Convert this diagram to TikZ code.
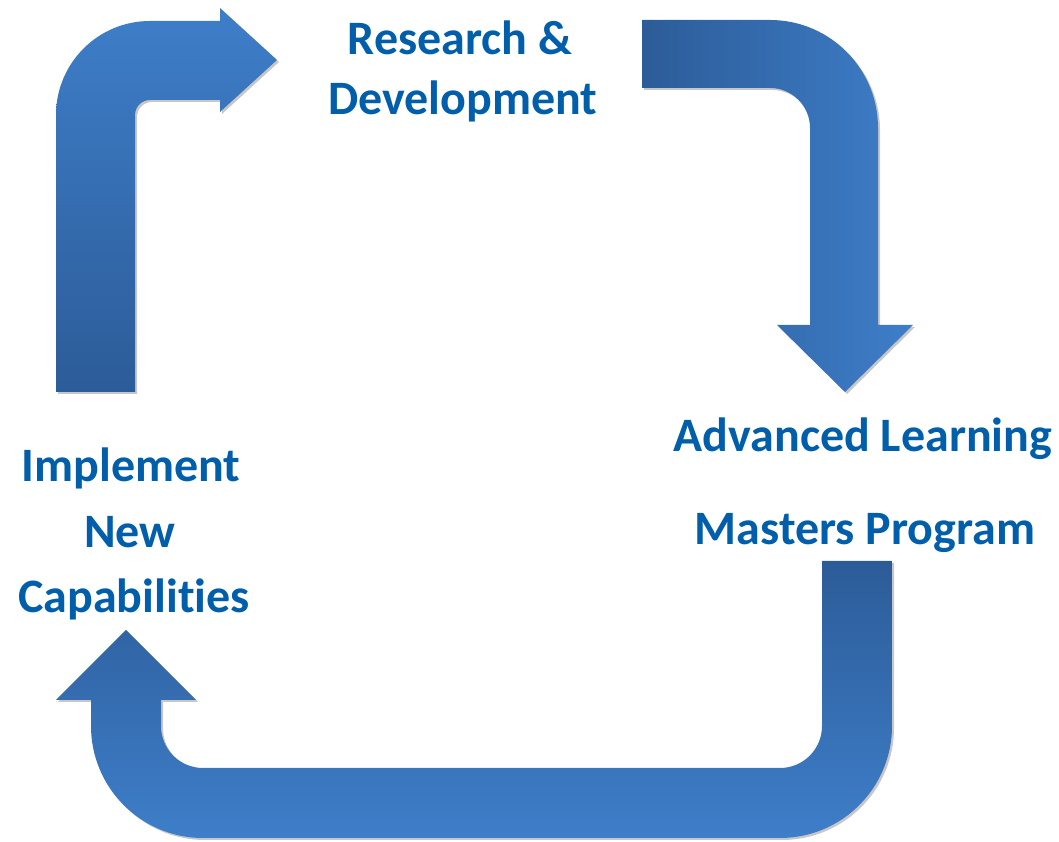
\documentclass[tikz,border=0pt]{standalone}
\usepackage{fontspec}
\setmainfont[Ligatures={NoCommon}]{Carlito}
\usetikzlibrary{shadows}
\definecolor{arrowlight}{RGB}{62,126,201}
\definecolor{arrowdark}{RGB}{44,92,152}
\definecolor{labelblue}{RGB}{0,94,170}
\tikzset{
  bigarrow/.style={draw=none, drop shadow={opacity=0.22, shadow xshift=2pt, shadow yshift=-2pt, fill=black}},
  labeltext/.style={inner sep=0pt, anchor=base, text=labelblue, font=\bfseries\fontsize{48}{56}\selectfont}
}
\begin{document}
\begin{tikzpicture}[x=1pt, y=1pt]
\useasboundingbox (0,0) rectangle (1059,842);
% arrow 1: up then right
\path[bigarrow, top color=arrowlight, bottom color=arrowdark]
  (56,450) -- (56,727) arc[start angle=180, end angle=90, radius=94pt]
  -- (220,821) -- (220,834) -- (277,782) -- (220,730) -- (220,742)
  -- (150,742) arc[start angle=90, end angle=180, radius=15pt]
  -- (135,450) -- cycle;
% arrow 2: right then down
\path[bigarrow, left color=arrowdark, right color=arrowlight]
  (642,822) -- (770,822) arc[start angle=90, end angle=0, radius=108pt]
  -- (878,517) -- (913,517) -- (845,450) -- (777,517) -- (810,517)
  -- (810,714) arc[start angle=0, end angle=90, radius=40pt]
  -- (642,754) -- cycle;
% arrow 3: down, left, up
\path[bigarrow, top color=arrowdark, bottom color=arrowlight]
  (822,281) -- (892,281) -- (892,116) arc[start angle=0, end angle=-90, radius=112pt]
  -- (203,4) arc[start angle=270, end angle=180, radius=112pt]
  -- (91,142) -- (56,142) -- (126,212) -- (196,142) -- (161,142)
  -- (161,116) arc[start angle=180, end angle=270, radius=42pt]
  -- (780,74) arc[start angle=270, end angle=360, radius=42pt]
  -- cycle;
% labels
\node[labeltext] (rd1) at (460,787) {Research \&};
\node[labeltext] (rd2) at (463,727) {Development};
\node[labeltext] (im1) at (131,360) {Implement};
\node[labeltext] (im2) at (130,294) {New};
\node[labeltext] (im3) at (134,229) {Capabilities};
\node[labeltext] (al1) at (863,390) {Advanced Learning};
\node[labeltext] (al2) at (865,297) {Masters Program};
\end{tikzpicture}
\end{document}
